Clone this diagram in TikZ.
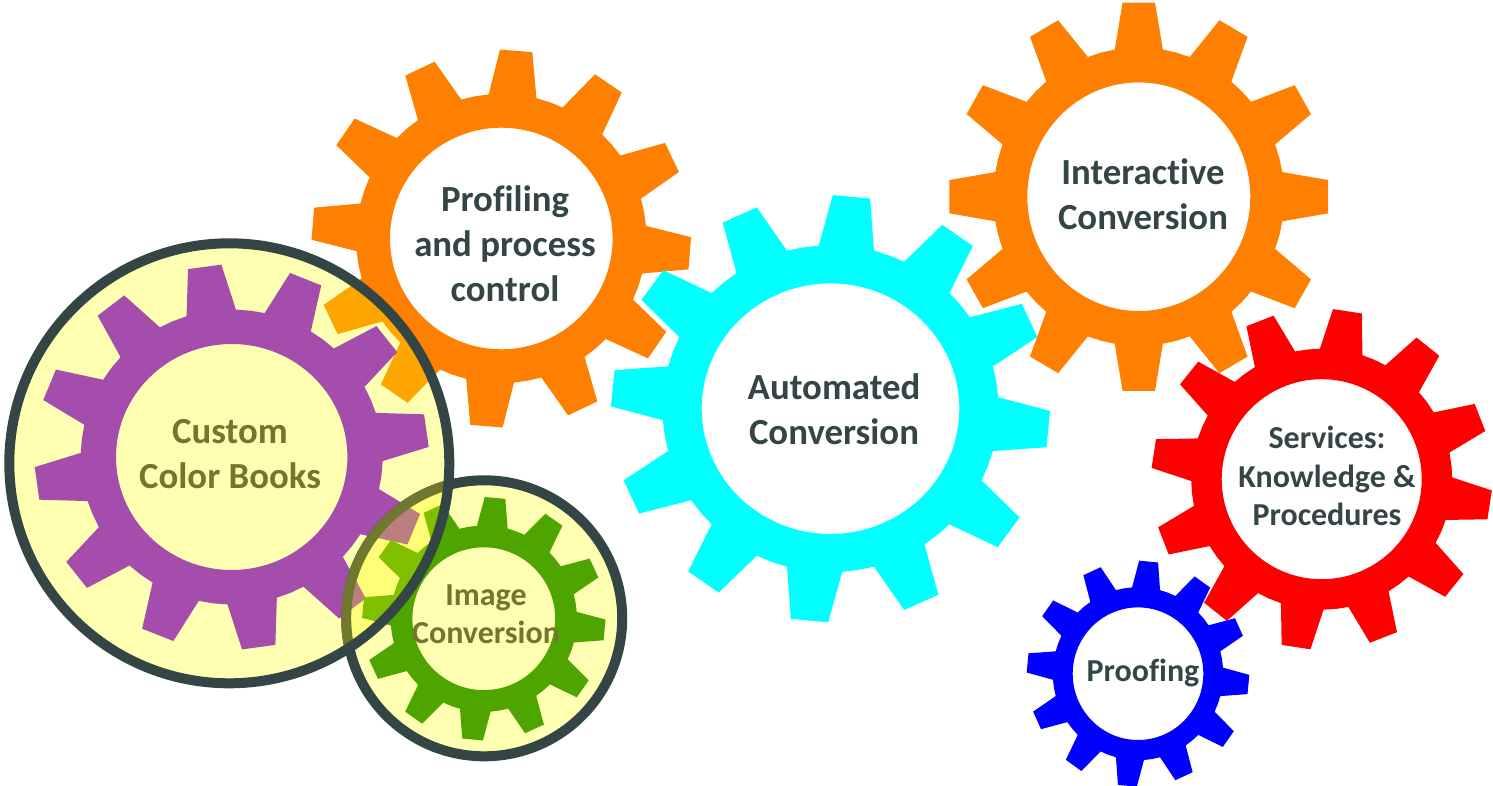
\documentclass[tikz,border=0pt]{standalone}
\usepackage{fontspec}
\setmainfont[Ligatures=NoCommon]{Carlito}

\definecolor{slate}{HTML}{344546}
\definecolor{gearorange}{HTML}{FF8000}
\definecolor{gearamber}{HTML}{FFA500}
\definecolor{gearcyan}{HTML}{00FFFF}
\definecolor{gearred}{HTML}{FF0000}
\definecolor{gearblue}{HTML}{0000FF}
\definecolor{gearpurple}{HTML}{A54DAD}
\definecolor{gearpink}{HTML}{BC7F7F}
\definecolor{geargreen}{HTML}{4EA500}
\definecolor{gearlime}{HTML}{80C000}
\definecolor{palefill}{HTML}{FFFFB2}
\definecolor{overlapfill}{HTML}{FFFF77}
\definecolor{olive}{HTML}{707830}

\tikzset{
    bigtext/.style={align=center, text=slate, font=\fontsize{36.8}{45}\selectfont\bfseries},
    smalltext/.style={align=center, text=slate, font=\fontsize{32}{38.5}\selectfont\bfseries},
    ring/.style={line width=10pt}
}

% #1,#2 centre, #3,#4 hole radii, #5 angle of one tooth, #6 colour
\newcommand{\drawgear}[6]{
    \begin{scope}[shift={(#1,#2)}, x=#3pt, y=#4pt]
        \fill[#6, even odd rule] (#5-9.5:1.305)
            \foreach \k [evaluate=\k as \a using #5+\k] in {0,30,...,330} {
                -- (\a-9.5:1.305) -- (\a-4.9:1.705) -- (\a+4.9:1.705) -- (\a+9.5:1.305) -- (\a+15:1.305)
            } -- cycle
            (0,0) circle (1);
    \end{scope}
}
\newcommand{\profilinggear}[1]{\drawgear{501.3}{238.5}{111.3}{110.8}{85.5}{#1}}
\newcommand{\bookgear}[1]{\drawgear{231.7}{457}{115.7}{113}{7.9}{#1}}
\newcommand{\imagegear}[1]{\drawgear{483.8}{618.7}{71.4}{71.4}{84.7}{#1}}

\begin{document}
\begin{tikzpicture}[x=1pt, y=-1pt]
    \useasboundingbox (0,0) rectangle (1493,786);

    \coordinate (B) at (229.3,463.3);
    \coordinate (I) at (484.2,618.3);

    \profilinggear{gearorange}
    \drawgear{830.5}{408.7}{128.8}{125.3}{84.5}{gearcyan}
    \drawgear{1138.8}{196.7}{111.5}{114.3}{90}{gearorange}
    \drawgear{1321.7}{479.2}{100}{100}{81.3}{gearred}
    \drawgear{1138}{673.7}{65.3}{66.3}{84.5}{gearblue}

    % big lens
    \fill[palefill] (B) circle (220);
    \begin{scope}
        \clip (B) circle (220);
        \profilinggear{gearamber}
    \end{scope}
    \bookgear{gearpurple}

    % small lens
    \fill[palefill] (I) circle (138);
    \imagegear{geargreen}
    \draw[ring, draw=slate] (I) circle (138);

    % where the lenses meet
    \begin{scope}
        \clip (B) circle (220);
        \fill[overlapfill] (I) circle (138);
        \begin{scope}
            \clip (I) circle (138);
            \bookgear{gearpink}
            \imagegear{gearlime}
        \end{scope}
        \draw[ring, draw=olive] (I) circle (138);
    \end{scope}
    \draw[ring, draw=slate] (B) circle (220);

    \node[bigtext] (profiling) at (505,244) {Profiling\\and process\\control};
    \node[bigtext] (automated) at (834,409) {Automated\\Conversion};
    \node[bigtext] (interactive) at (1143,194) {Interactive\\Conversion};
    \node[bigtext, text=olive] (custom) at (230,454) {Custom\\Color Books};
    \node[smalltext, text=olive] (image) at (486,614) {Image\\Conversion};
    \node[smalltext] (services) at (1327,476) {Services:\\Knowledge \&\\Procedures};
    \node[smalltext] (proofing) at (1143,673) {Proofing};
\end{tikzpicture}
\end{document}
